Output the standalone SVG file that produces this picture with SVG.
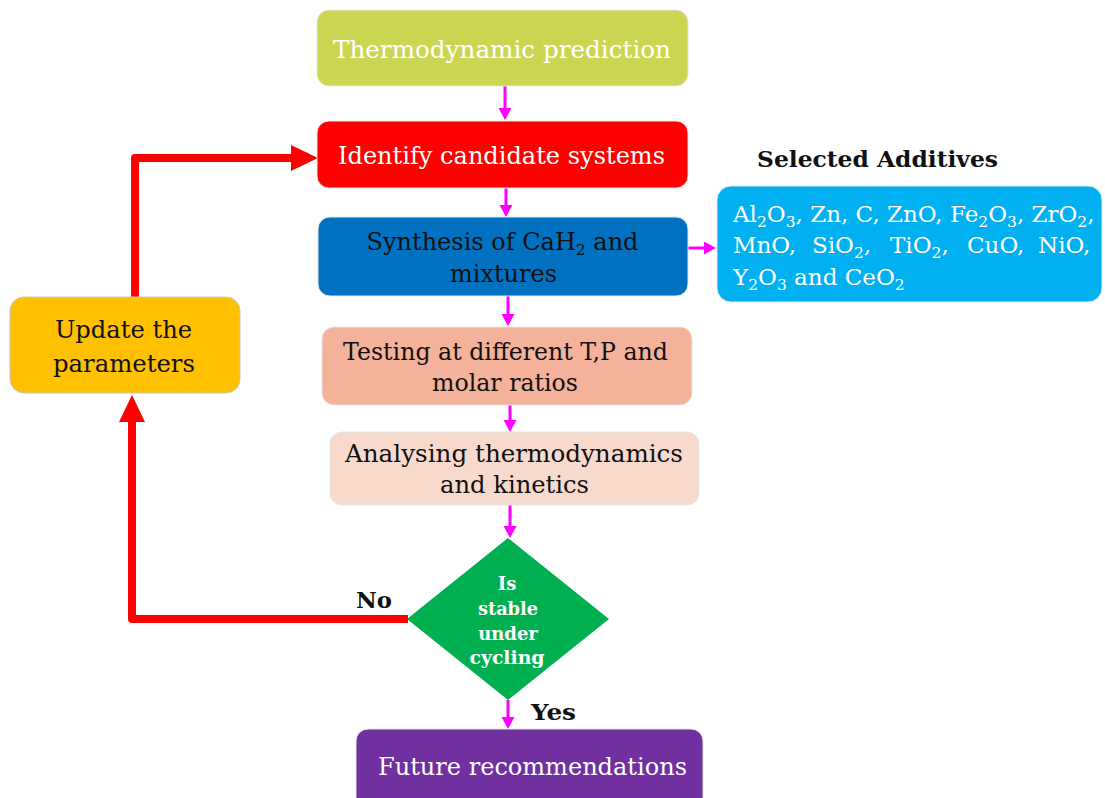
<svg xmlns="http://www.w3.org/2000/svg" width="1105" height="798" viewBox="0 0 1105 798">
<defs>
<marker id="mag" markerUnits="userSpaceOnUse" markerWidth="14" markerHeight="14" refX="2" refY="6.5" orient="auto"><path d="M0,0 L12,6.5 L0,13 z" fill="#FF00FF"/></marker>
<marker id="red" markerUnits="userSpaceOnUse" markerWidth="28" markerHeight="28" refX="5" refY="13" orient="auto"><path d="M0,0 L27,13 L0,26 z" fill="#FF0000"/></marker>
<style>
.t{font-family:"DejaVu Serif","Liberation Serif",serif;font-size:24px;text-anchor:middle}
.w{fill:#ffffff}
.k{fill:#111111}
.b{font-family:"DejaVu Serif","Liberation Serif",serif;font-weight:bold;fill:#111111}
.d{font-family:"DejaVu Serif","Liberation Serif",serif;font-weight:bold;fill:#ffffff;font-size:18px;text-anchor:middle}
.box{stroke:#e6e6e6;stroke-width:1}
.m{stroke:#FF00FF;stroke-width:3;fill:none;marker-end:url(#mag)}
.r{stroke:#FF0000;stroke-width:8;fill:none;stroke-linejoin:round;marker-end:url(#red)}
.a{font-family:"DejaVu Serif","Liberation Serif",serif;font-size:23px;fill:#ffffff}
.sub{font-size:15.5px}
</style>
</defs>
<rect width="1105" height="798" fill="#ffffff"/>
<g id="connectors">
<line class="m" x1="505" y1="86" x2="505" y2="110"/>
<line class="m" x1="506" y1="188" x2="506" y2="207"/>
<line class="m" x1="508" y1="296" x2="508" y2="316"/>
<line class="m" x1="510" y1="405" x2="510" y2="422"/>
<line class="m" x1="510" y1="505" x2="510" y2="528"/>
<line class="m" x1="508" y1="700" x2="508" y2="719"/>
<line class="m" x1="688" y1="248" x2="706" y2="248"/>
<path class="r" d="M408,619 H132 V417"/>
<path class="r" d="M135,297 V158 H296"/>
</g>
<g id="thermo">
<rect class="box" x="317" y="10" width="371" height="76" rx="12" fill="#CDD652"/>
<text class="t w" x="502" y="58" textLength="338" lengthAdjust="spacingAndGlyphs">Thermodynamic prediction</text>
</g>
<g id="identify">
<rect class="box" x="317" y="121" width="371" height="67" rx="12" fill="#FF0000"/>
<text class="t w" x="501.5" y="164" textLength="327" lengthAdjust="spacingAndGlyphs">Identify candidate systems</text>
</g>
<g id="synthesis">
<rect class="box" x="318" y="217" width="370" height="79" rx="12" fill="#0070C0"/>
<text class="t k" x="502.5" y="250">Synthesis of CaH<tspan class="sub" dy="5">2</tspan><tspan dy="-5"> and</tspan></text>
<text class="t k" x="503.5" y="282" textLength="107" lengthAdjust="spacingAndGlyphs">mixtures</text>
</g>
<g id="additives-label">
<text class="b" x="757" y="167" font-size="23" textLength="241" lengthAdjust="spacingAndGlyphs">Selected Additives</text>
</g>
<g id="additives">
<rect class="box" x="717" y="186" width="385" height="116" rx="14" fill="#00B0F0"/>
<text class="a" x="733" y="222">Al<tspan class="sub" dy="5">2</tspan><tspan dy="-5">O</tspan><tspan class="sub" dy="5">3</tspan><tspan dy="-5">, Zn, C, ZnO, Fe</tspan><tspan class="sub" dy="5">2</tspan><tspan dy="-5">O</tspan><tspan class="sub" dy="5">3</tspan><tspan dy="-5">, ZrO</tspan><tspan class="sub" dy="5">2</tspan><tspan dy="-5">,</tspan></text>
<text class="a" y="253" font-size="22.5"><tspan x="733">MnO,</tspan><tspan x="812">SiO</tspan><tspan class="sub" dy="5">2</tspan><tspan dy="-5">,</tspan><tspan x="890">TiO</tspan><tspan class="sub" dy="5">2</tspan><tspan dy="-5">,</tspan><tspan x="967">CuO,</tspan><tspan x="1038">NiO,</tspan></text>
<text class="a" x="733" y="285" font-size="24">Y<tspan class="sub" dy="5">2</tspan><tspan dy="-5">O</tspan><tspan class="sub" dy="5">3</tspan><tspan dy="-5"> and CeO</tspan><tspan class="sub" dy="5">2</tspan></text>
</g>
<g id="testing">
<rect class="box" x="322" y="327" width="370" height="78" rx="12" fill="#F4B29A"/>
<text class="t k" x="505.5" y="360" textLength="325" lengthAdjust="spacingAndGlyphs">Testing at different T,P and</text>
<text class="t k" x="505" y="391" textLength="146" lengthAdjust="spacingAndGlyphs">molar ratios</text>
</g>
<g id="analysing">
<rect class="box" x="330" y="432" width="369" height="73" rx="12" fill="#F8DACD"/>
<text class="t k" x="514" y="462" textLength="338" lengthAdjust="spacingAndGlyphs">Analysing thermodynamics</text>
<text class="t k" x="514.5" y="493" textLength="149" lengthAdjust="spacingAndGlyphs">and kinetics</text>
</g>
<g id="update">
<rect x="10" y="297" width="230" height="96" rx="14" fill="#FFC000" stroke="#c8c8c8" stroke-width="1"/>
<text class="t k" x="123.5" y="338" textLength="137" lengthAdjust="spacingAndGlyphs">Update the</text>
<text class="t k" x="124" y="372" textLength="142" lengthAdjust="spacingAndGlyphs">parameters</text>
</g>
<g id="decision">
<polygon points="508,538 609,619 508,700 407,619" fill="#00B050"/>
<text class="d" x="507" y="590">Is</text>
<text class="d" x="508" y="615" textLength="60" lengthAdjust="spacingAndGlyphs">stable</text>
<text class="d" x="508" y="640">under</text>
<text class="d" x="507" y="664" textLength="75" lengthAdjust="spacingAndGlyphs">cycling</text>
</g>
<g id="labels">
<text class="b" x="356" y="608" font-size="22" textLength="36" lengthAdjust="spacingAndGlyphs">No</text>
<text class="b" x="531" y="720" font-size="22" textLength="45" lengthAdjust="spacingAndGlyphs">Yes</text>
</g>
<g id="future">
<rect class="box" x="356" y="729" width="347" height="85" rx="12" fill="#7030A0"/>
<text class="t w" x="532.5" y="775" textLength="309" lengthAdjust="spacingAndGlyphs">Future recommendations</text>
</g>
</svg>
